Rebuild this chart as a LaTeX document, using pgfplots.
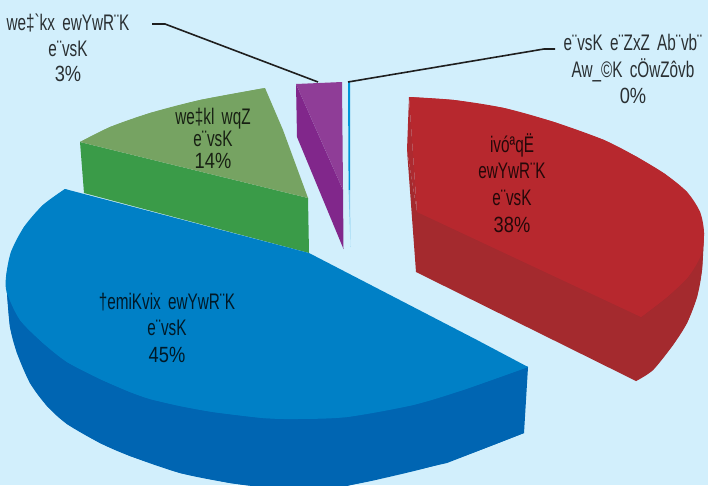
\documentclass[border=0pt]{standalone}
\usepackage{fontspec}
\usepackage{pgfplots}
\pgfplotsset{compat=1.18}
\newfontfamily\lblfont[FakeStretch=0.68, WordSpace=1.7]{Liberation Sans}
\newfontfamily\pctfont[FakeStretch=0.83]{Liberation Sans}
\definecolor{bg}{HTML}{D2EFFC}
\definecolor{redtop}{HTML}{B7282E}
\definecolor{redside}{HTML}{A42A2E}
\definecolor{redsliver}{HTML}{AD2A30}
\definecolor{bluetop}{HTML}{0080C6}
\definecolor{blueside}{HTML}{0065B2}
\definecolor{greentop}{HTML}{76A362}
\definecolor{greenside}{HTML}{3A9B48}
\definecolor{purptop}{HTML}{8F3D97}
\definecolor{purpside}{HTML}{81278B}
\definecolor{cyanln}{HTML}{0095DA}
\definecolor{cyanfade}{HTML}{7FCBEE}
\definecolor{leader}{HTML}{1F1F1F}
\tikzset{
	lbl/.style={anchor=base, inner sep=0pt, overlay, text=black, text opacity=0.8, font=\fontsize{22.5}{25}\lblfont},
	pct/.style={anchor=base, inner sep=0pt, overlay, text=black, text opacity=0.8, font=\fontsize{22}{25}\pctfont},
}
\begin{document}
\begin{tikzpicture}
	\begin{axis}[
		scale only axis,
		width=708pt,
		height=485pt,
		xmin=0, xmax=708,
		ymin=0, ymax=485,
		y dir=reverse,
		hide axis,
	]
		% background
		\addplot[fill=bg, draw=none] coordinates {(0,0) (708,0) (708,485) (0,485)} --cycle;

		% red slice
		\addplot[fill=redside, draw=none] coordinates {(407,150) (416,272) (636,381) (653,370) (673,345) (687,323) (697,297) (702,270) (704,233) (417,212)} --cycle;
		\addplot[fill=redside, draw=none, smooth] coordinates {(636,381) (653,370) (673,345) (687,323) (697,297) (702,270) (704,233)};
		\addplot[fill=redtop, draw=none] coordinates {(409,97) (454,100) (504,108) (554,122) (604,140) (637,157) (665,174) (687,192) (700,212) (704,233) (701,255) (688,277) (667,297) (641,317) (417,212)} --cycle;
		\addplot[fill=redtop, draw=none, smooth] coordinates {(409,97) (454,100) (504,108) (554,122) (604,140) (637,157) (665,174) (687,192) (700,212) (704,233) (701,255) (688,277) (667,297) (641,317)};
		\addplot[fill=redsliver, draw=none] coordinates {(409,97) (407,150) (417,212)} --cycle;

		% green slice
		\addplot[fill=greenside, draw=none] coordinates {(80,142) (308,198) (309,253) (84,193)} --cycle;
		\addplot[fill=greentop, draw=none] coordinates {(80,142) (110,127) (150,113) (200,100) (265,88) (283,130) (308,198)} --cycle;
		\addplot[fill=greentop, draw=none, smooth] coordinates {(80,142) (110,127) (150,113) (200,100) (265,88)};

		% purple slice
		\addplot[fill=purpside, draw=none] coordinates {(296,84) (343,190) (343.5,249) (297,137)} --cycle;
		\addplot[fill=purptop, draw=none] coordinates {(296,84) (342,82) (343,190)} --cycle;

		% thin slice, 0 percent
		\addplot[fill=cyanln, draw=none] coordinates {(348,82) (350,82) (350,190) (348.6,190)} --cycle;
		\addplot[fill=cyanfade, draw=none] coordinates {(348.6,190) (350,190) (350.5,247)} --cycle;

		% blue slice
		\addplot[fill=blueside, draw=none] coordinates {(6,277) (7,293) (10,327) (17,353) (30,383) (47,406) (67,424) (100,443) (130,456) (180,473) (230,483) (263,487) (343,487) (380,478) (447,463) (524,433) (528,367)} --cycle;
		\addplot[fill=blueside, draw=none, smooth] coordinates {(7,293) (10,327) (17,353) (30,383) (47,406) (67,424) (100,443) (130,456) (180,473) (230,483) (263,487) (300,489) (343,486) (380,479) (447,462) (524,433)};
		\addplot[fill=bluetop, draw=none] coordinates {(65,189) (43,205) (24,227) (11,252) (6,277) (7,293) (20,320) (43,343) (67,362) (100,379) (130,392) (150,399) (180,406) (213,412) (263,418) (297,419) (347,417) (413,405) (463,390) (528,367) (477,340) (309,253)} --cycle;
		\addplot[fill=bluetop, draw=none, smooth] coordinates {(65,189) (43,205) (24,227) (11,252) (6,277) (7,293) (20,320) (43,343) (67,362) (100,379) (130,392) (150,399) (180,406) (213,412) (263,418) (297,419) (347,417) (413,405) (463,390) (528,367)};

		% leader lines
		\addplot[leader, line width=1.6pt] coordinates {(152,24) (165,24) (318,82)};
		\addplot[leader, line width=1.6pt] coordinates {(555,49) (544,49) (348,82)};

		% labels
		\node[lbl] at (axis cs:68,30) {we‡`kx ewYwR¨K};
		\node[lbl] at (axis cs:68,56) {e¨vsK};
		\node[pct] at (axis cs:68,81) {3\%};

		\node[lbl] at (axis cs:213,124) {we‡kl wqZ};
		\node[lbl] at (axis cs:213,146) {e¨vsK};
		\node[pct] at (axis cs:213,168) {14\%};

		\node[lbl] at (axis cs:512,152) {ivóªqË};
		\node[lbl] at (axis cs:512,178.5) {ewYwR¨K};
		\node[lbl] at (axis cs:512,205.5) {e¨vsK};
		\node[pct] at (axis cs:512,232) {38\%};

		\node[lbl] at (axis cs:167,309) {†emiKvix ewYwR¨K};
		\node[lbl] at (axis cs:167,335.5) {e¨vsK};
		\node[pct] at (axis cs:167,362.5) {45\%};

		\node[lbl] at (axis cs:633,50) {e¨vsK e¨ZxZ Ab¨vb¨};
		\node[lbl] at (axis cs:633,77) {Aw\_©K cÖwZôvb};
		\node[pct] at (axis cs:633,103) {0\%};
	\end{axis}
\end{tikzpicture}
\end{document}
